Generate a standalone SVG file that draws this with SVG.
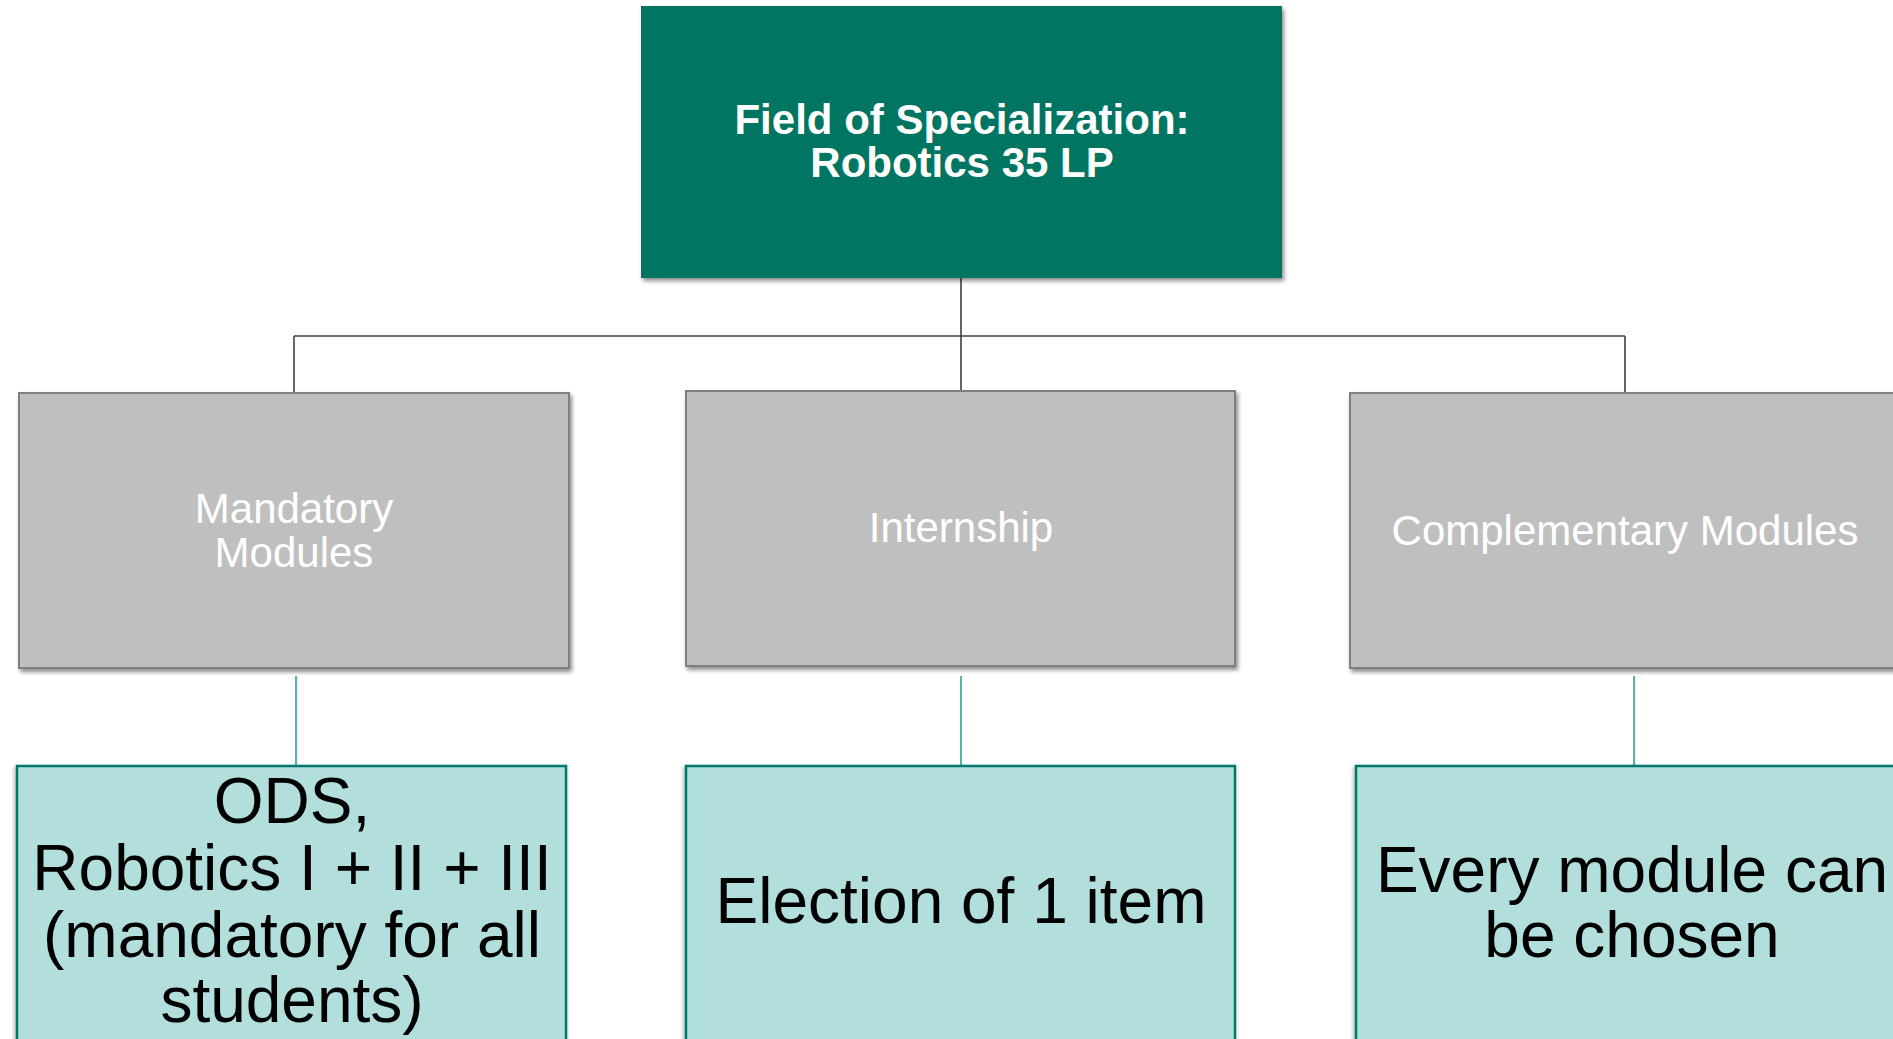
<svg xmlns="http://www.w3.org/2000/svg" width="1893" height="1039" viewBox="0 0 1893 1039">
<defs>
<filter id="sh" x="-5%" y="-5%" width="115%" height="115%">
<feDropShadow dx="2" dy="3" stdDeviation="2" flood-color="#000" flood-opacity="0.45"/>
</filter>
<filter id="sh2" x="-5%" y="-5%" width="115%" height="115%">
<feDropShadow dx="-1" dy="2" stdDeviation="2" flood-color="#000" flood-opacity="0.35"/>
</filter>
<style>
.top{fill:#007562;}
.gray{fill:#BFBFBF;stroke:#7F7F7F;stroke-width:2;}
.teal{fill:#B2DFDB;stroke:#00796B;stroke-width:2.5;}
.tt{font-family:"Liberation Sans",Arial,sans-serif;font-weight:bold;font-size:42px;fill:#fff;text-anchor:middle;}
.gt{font-family:"Liberation Sans",Arial,sans-serif;font-size:42px;fill:#fff;text-anchor:middle;}
.bt{font-family:"Liberation Sans",Arial,sans-serif;font-size:64px;fill:#000;text-anchor:middle;}
.c1{fill:none;stroke:#404040;stroke-width:1.6;}
.c2{fill:none;stroke:#2FA396;stroke-width:1.6;}
</style>
</defs>
<rect width="1893" height="1039" fill="#fff"/>
<g id="connectors">
<path class="c1" d="M961 278 V391 M294 336 H1625 M294 336 V393 M1625 336 V393"/>
<path class="c2" d="M296 676 V766 M961 676 V766 M1634 676 V766"/>
</g>
<g id="root">
<rect class="top" x="641" y="6" width="641" height="272" filter="url(#sh)"/>
<text class="tt" x="962" y="134">Field of Specialization:</text>
<text class="tt" x="962" y="177">Robotics 35 LP</text>
</g>
<g id="mandatory">
<rect class="gray" x="19" y="393" width="550" height="275" filter="url(#sh)"/>
<text class="gt" x="294" y="523">Mandatory</text>
<text class="gt" x="294" y="567">Modules</text>
</g>
<g id="internship">
<rect class="gray" x="686" y="391" width="549" height="275" filter="url(#sh)"/>
<text class="gt" x="961" y="542">Internship</text>
</g>
<g id="complementary">
<rect class="gray" x="1350" y="393" width="550" height="275" filter="url(#sh)"/>
<text class="gt" x="1625" y="545">Complementary Modules</text>
</g>
<g id="mandatory-detail">
<rect class="teal" x="17" y="766" width="549" height="300" filter="url(#sh2)"/>
<text class="bt" x="292" y="823">ODS,</text>
<text class="bt" x="292" y="890">Robotics I + II + III</text>
<text class="bt" x="292" y="957">(mandatory for all</text>
<text class="bt" x="292" y="1022">students)</text>
</g>
<g id="internship-detail">
<rect class="teal" x="686" y="766" width="549" height="300" filter="url(#sh2)"/>
<text class="bt" x="961" y="923">Election of 1 item</text>
</g>
<g id="complementary-detail">
<rect class="teal" x="1356" y="766" width="552" height="300" filter="url(#sh2)"/>
<text class="bt" x="1632" y="892">Every module can</text>
<text class="bt" x="1632" y="957">be chosen</text>
</g>
</svg>
